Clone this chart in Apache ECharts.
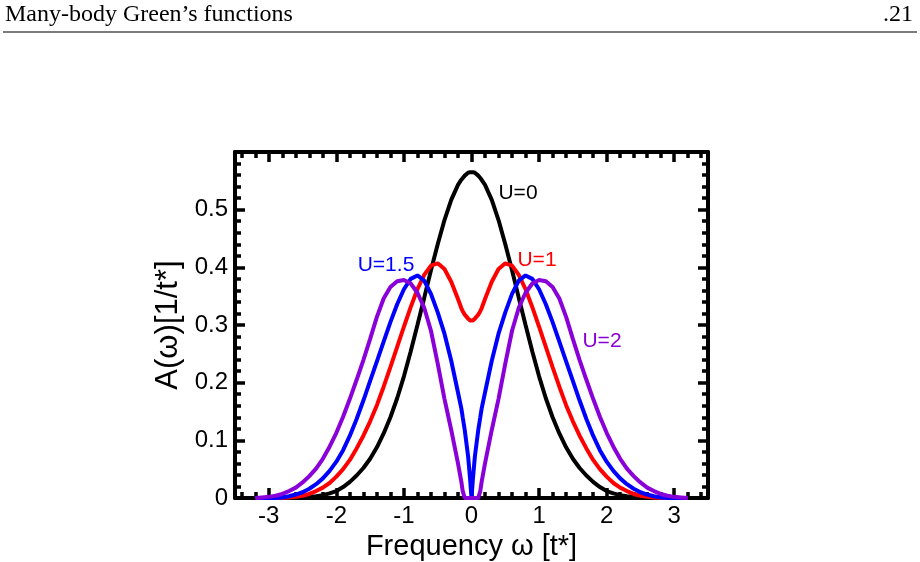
<!DOCTYPE html>
<html>
<head>
<meta charset="utf-8">
<script src="https://cdn.jsdelivr.net/npm/echarts@6/dist/echarts.min.js"></script>
<style>
  html, body { margin: 0; padding: 0; background: #fff; }
  #main { width: 920px; height: 562px; }
</style>
</head>
<body>
<div id="main"></div>
<script>
// frequency grid (extra points near 0 for the U=1.5 cusp and the U=2 gap)
let omega = [-3.2, -3.1, -3.0, -2.9, -2.8, -2.7, -2.6, -2.5, -2.4, -2.3,
  -2.2, -2.1, -2.0, -1.9, -1.8, -1.7, -1.6, -1.5, -1.4, -1.3,
  -1.2, -1.1, -1.0, -0.9, -0.8, -0.7, -0.6, -0.5, -0.4, -0.3,
  -0.2, -0.15, -0.13, -0.1, -0.05, -0.02, 0,
  0.02, 0.05, 0.1, 0.13, 0.15, 0.2,
  0.3, 0.4, 0.5, 0.6, 0.7, 0.8, 0.9, 1.0, 1.1, 1.2,
  1.3, 1.4, 1.5, 1.6, 1.7, 1.8, 1.9, 2.0, 2.1, 2.2,
  2.3, 2.4, 2.5, 2.6, 2.7, 2.8, 2.9, 3.0, 3.1, 3.2]

// A(w)
let aU0 = [0, 0, 0, 0, 0, 0, 0, 0.001, 0.002, 0.003,
  0.005, 0.008, 0.012, 0.019, 0.028, 0.039, 0.052, 0.068, 0.088, 0.112,
  0.140, 0.173, 0.211, 0.254, 0.300, 0.347, 0.395, 0.440, 0.482, 0.517,
  0.543, 0.552, 0.555, 0.559, 0.564, 0.565, 0.565,
  0.565, 0.564, 0.559, 0.555, 0.552, 0.543,
  0.517, 0.482, 0.440, 0.395, 0.347, 0.300, 0.254, 0.211, 0.173, 0.140,
  0.112, 0.088, 0.068, 0.052, 0.039, 0.028, 0.019, 0.012, 0.008, 0.005,
  0.003, 0.002, 0.001, 0, 0, 0, 0, 0, 0, 0]

let aU1 = [0, 0, 0, 0, 0, 0.001, 0.002, 0.004, 0.007, 0.012,
  0.018, 0.026, 0.037, 0.050, 0.066, 0.086, 0.108, 0.133, 0.161, 0.193,
  0.227, 0.262, 0.297, 0.331, 0.362, 0.387, 0.403, 0.407, 0.397, 0.375,
  0.345, 0.329, 0.324, 0.318, 0.311, 0.308, 0.308,
  0.308, 0.311, 0.318, 0.324, 0.329, 0.345,
  0.375, 0.397, 0.407, 0.403, 0.387, 0.362, 0.331, 0.297, 0.262, 0.227,
  0.193, 0.161, 0.133, 0.108, 0.086, 0.066, 0.050, 0.037, 0.026, 0.018,
  0.012, 0.007, 0.004, 0.002, 0.001, 0, 0, 0, 0, 0]

let aU15 = [0, 0, 0, 0, 0.001, 0.003, 0.006, 0.010, 0.016, 0.024,
  0.034, 0.047, 0.063, 0.083, 0.108, 0.137, 0.169, 0.203, 0.237, 0.271,
  0.305, 0.336, 0.362, 0.380, 0.386, 0.377, 0.354, 0.322, 0.285, 0.238,
  0.183, 0.155, 0.140, 0.118, 0.072, 0.032, 0,
  0.032, 0.072, 0.118, 0.140, 0.155, 0.183,
  0.238, 0.285, 0.322, 0.354, 0.377, 0.386, 0.380, 0.362, 0.336, 0.305,
  0.271, 0.237, 0.203, 0.169, 0.137, 0.108, 0.083, 0.063, 0.047, 0.034,
  0.024, 0.016, 0.010, 0.006, 0.003, 0.001, 0, 0, 0, 0]

let aU2 = [0, 0.001, 0.002, 0.004, 0.007, 0.012, 0.018, 0.027, 0.038, 0.051,
  0.068, 0.089, 0.113, 0.141, 0.172, 0.205, 0.239, 0.276, 0.314, 0.346,
  0.366, 0.376, 0.378, 0.372, 0.356, 0.330, 0.290, 0.233, 0.172, 0.118,
  0.060, 0.028, 0.012, 0, 0, 0, 0,
  0, 0, 0, 0.012, 0.028, 0.060,
  0.118, 0.172, 0.233, 0.290, 0.330, 0.356, 0.372, 0.378, 0.376, 0.366,
  0.346, 0.314, 0.276, 0.239, 0.205, 0.172, 0.141, 0.113, 0.089, 0.068,
  0.051, 0.038, 0.027, 0.018, 0.012, 0.007, 0.004, 0.002, 0.001, 0]

// ticks
let xMajor = [-3, -2, -1, 0, 1, 2, 3]
let xMinor = [-3.4, -3.2, -2.8, -2.6, -2.4, -2.2, -1.8, -1.6, -1.4, -1.2,
  -0.8, -0.6, -0.4, -0.2, 0.2, 0.4, 0.6, 0.8, 1.2, 1.4, 1.6, 1.8,
  2.2, 2.4, 2.6, 2.8, 3.2, 3.4]

let font = 'Liberation Sans, Arial, Helvetica, sans-serif'
let serif = 'Liberation Serif, Times New Roman, serif'
let names = ['U=0', 'U=1', 'U=1.5', 'U=2']
let colors = ['#000000', '#ff0000', '#0000ff', '#8a00d8']
let curves = [aU0, aU1, aU15, aU2]

function pairs(vals) {
    return omega.map(function (w, i) { return [w, vals[i]] })
}

function xAx(pos, major, labels) {
    return {
        type: 'value', position: pos, min: -3.5, max: 3.5,
        axisLine: { show: major, onZero: false, lineStyle: { color: '#000', width: 4 } },
        axisTick: {
            show: true, inside: true, length: major ? 10 : 6,
            customValues: major ? xMajor : xMinor,
            lineStyle: { color: '#000', width: 3.5 }
        },
        axisLabel: {
            show: labels, customValues: xMajor, margin: 6,
            color: '#000', fontSize: 24, fontFamily: font
        },
        splitLine: { show: false }
    }
}

function yAx(pos, labels) {
    return {
        type: 'value', position: pos, min: 0, max: 0.6, interval: 0.1,
        axisLine: { show: true, onZero: false, lineStyle: { color: '#000', width: 4 } },
        axisTick: { show: true, inside: true, length: 10, lineStyle: { color: '#000', width: 3.5 } },
        minorTick: { show: true, splitNumber: 5, length: 6, lineStyle: { color: '#000', width: 3.5 } },
        axisLabel: {
            show: labels, showMaxLabel: false, margin: 7,
            color: '#000', fontSize: 24, fontFamily: font
        },
        splitLine: { show: false }
    }
}

let xBottom = xAx('bottom', true, true)
xBottom.name = 'Frequency \u03c9 [t*]'
xBottom.nameLocation = 'middle'
xBottom.nameGap = 23
xBottom.nameTextStyle = { color: '#000', fontSize: 29, fontFamily: font }

let yLeft = yAx('left', true)
yLeft.name = 'A(\u03c9)[1/t*]'
yLeft.nameLocation = 'middle'
yLeft.nameGap = 41
yLeft.nameTextStyle = { color: '#000', fontSize: 31, fontFamily: font }

let series = curves.map(function (c, i) {
    return {
        name: names[i], type: 'line', xAxisIndex: 0, yAxisIndex: 0,
        data: pairs(c), showSymbol: false, smooth: false,
        lineStyle: { color: colors[i], width: 4 }, z: 5
    }
})

let labelPos = [[518, 193], [537, 260], [386, 265], [602, 341]]

let graphics = [
    { type: 'text', left: 5, top: 3, style: { text: 'Many-body Green\u2019s functions', font: '24px ' + serif, fill: '#000' } },
    { type: 'text', right: 7, top: 3, style: { text: '.21', font: '24px ' + serif, fill: '#000' } },
    { type: 'line', shape: { x1: 3, y1: 32, x2: 917, y2: 32 }, style: { stroke: '#7a7a7a', lineWidth: 2 } }
]
labelPos.forEach(function (p, i) {
    graphics.push({
        type: 'text', x: p[0], y: p[1],
        style: { text: names[i], font: '21px ' + font, fill: colors[i], align: 'center', verticalAlign: 'middle' }
    })
})

let myChart = echarts.init(document.getElementById('main'))
myChart.setOption({
    animation: false,
    backgroundColor: '#fff',
    grid: { left: 235, right: 212, top: 152, bottom: 64, containLabel: false, outerBoundsMode: 'none' },
    xAxis: [xBottom, xAx('bottom', false, false), xAx('top', true, false), xAx('top', false, false)],
    yAxis: [yLeft, yAx('right', false)],
    series: series,
    graphic: graphics
})
</script>
</body>
</html>
